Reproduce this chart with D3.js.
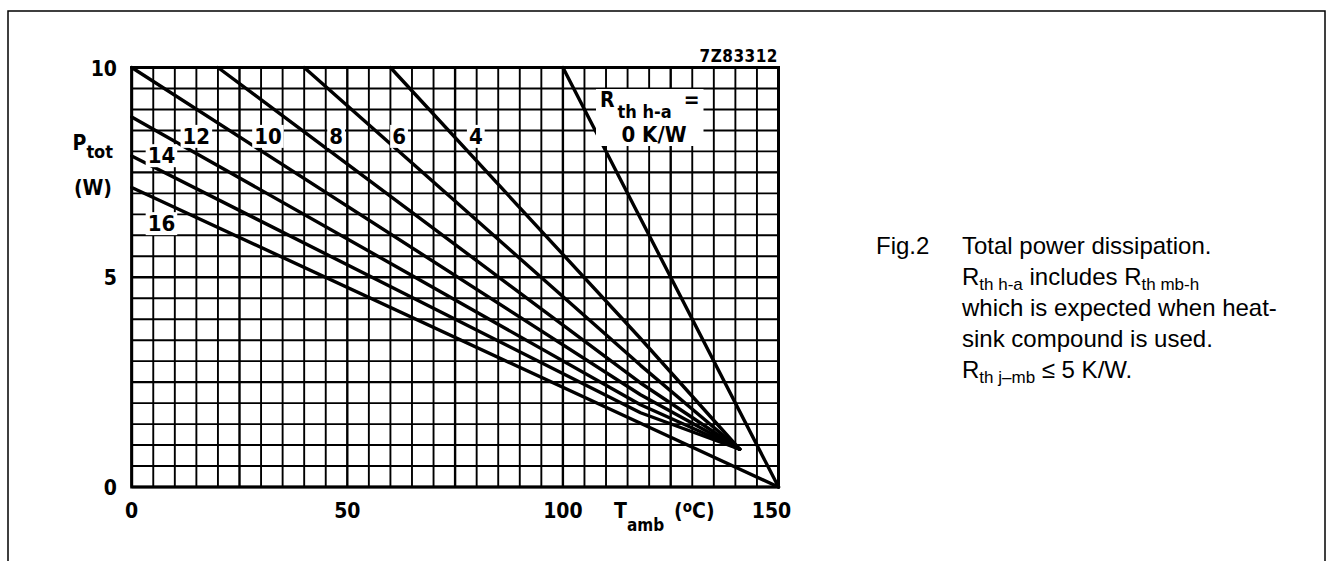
<!DOCTYPE html>
<html><head><meta charset="utf-8">
<script src="https://cdn.jsdelivr.net/npm/d3@7/dist/d3.min.js"></script>
<style>body{margin:0;background:#fff}svg{display:block}</style></head>
<body><svg id="c" width="1329" height="561"></svg>
<script>
// ---- data ----
const rthValues = [0, 4, 6, 8, 10, 12, 14, 16];          // K/W
const startT = [100, 60, 40, 20, 0, 0, 0, 0];             // °C
const startP = [10, 10, 10, 10, 10, 8.82, 7.89, 7.14];    // W
const midT   = [118, 118, 118, 118, 118, 118, 118, 118];
const midP   = [6.4, 3.54, 2.9, 2.48, 2.2, 1.96, 1.77, 1.52];
const endT   = [150, 141, 141, 141, 141, 141, 141, 150];
const endP   = [0, 0.9, 0.9, 0.9, 0.9, 0.9, 0.9, 0];
const tempTicks  = [0, 50, 100, 150];
const powerTicks = [0, 5, 10];
const curveLabels = ["12", "10", "8", "6", "4", "14", "16"];
const captionLines = [
  [["Total power dissipation.", ""]],
  [["R", ""], ["th h-a", "sub"], [" includes R", ""], ["th mb-h", "sub"]],
  [["which is expected when heat-", ""]],
  [["sink compound is used.", ""]],
  [["R", ""], ["th j\u2013mb", "sub"], [" \u2264 5 K/W.", ""]]
];

// ---- layout ----
const svg = d3.select("#c");
const x = d3.scaleLinear().domain([0, 150]).range([131.7, 778.5]);
const y = d3.scaleLinear().domain([0, 10]).range([487, 67.5]);
const narrow = "'Liberation Sans Narrow','DejaVu Sans Condensed','Arial Narrow',sans-serif";
const sans = "'Liberation Sans',Arial,Helvetica,sans-serif";

svg.append("rect").attr("width", 1329).attr("height", 561).attr("fill", "#fff");
svg.append("rect").attr("x", 8).attr("y", 11).attr("width", 1317).attr("height", 600)
  .attr("fill", "none").attr("stroke", "#000").attr("stroke-width", 1.5);

// grid
const g = svg.append("g");
g.selectAll("line.v").data(d3.range(0, 151, 5)).join("line")
  .attr("x1", d => x(d)).attr("x2", d => x(d)).attr("y1", y(0)).attr("y2", y(10))
  .attr("stroke", "#000").attr("stroke-width", d => d % 25 === 0 ? 2.4 : 1.9);
g.selectAll("line.h").data(d3.range(0, 10.01, 0.5)).join("line")
  .attr("y1", d => y(d)).attr("y2", d => y(d)).attr("x1", x(0)).attr("x2", x(150))
  .attr("stroke", "#000").attr("stroke-width", d => (Math.round(d * 2) % 5 === 0) ? 2.4 : 1.9);
g.append("rect").attr("x", x(0)).attr("y", y(10)).attr("width", x(150) - x(0)).attr("height", y(0) - y(10))
  .attr("fill", "none").attr("stroke", "#000").attr("stroke-width", 3);

// curves
const lineGen = d3.line().x(d => x(d[0])).y(d => y(d[1]));
const curves = rthValues.map((r, i) => [[startT[i], startP[i]], [midT[i], midP[i]], [endT[i], endP[i]]]);
svg.append("g").selectAll("path").data(curves).join("path")
  .attr("d", lineGen).attr("fill", "none").attr("stroke", "#000")
  .attr("stroke-width", 3.4).attr("stroke-linecap", "round").attr("stroke-linejoin", "round");

// labels with white backing
function boxed(parent, pad) {
  const gg = parent.append("g");
  return { g: gg, finish: () => {
    const b = gg.node().getBBox();
    gg.insert("rect", ":first-child").attr("x", b.x - pad).attr("y", b.y + 1).attr("width", b.width + 2 * pad)
      .attr("height", b.height - 2).attr("fill", "#fff");
  }};
}
const labelT = [15, 31.6, 47.4, 62, 79.8, 6.9, 6.9];
const labelP = [8.37, 8.37, 8.37, 8.37, 8.37, 7.91, 6.29];
curveLabels.forEach((t, i) => {
  const b = boxed(svg, 2);
  b.g.append("text").attr("x", x(labelT[i])).attr("y", y(labelP[i]) + 8)
    .attr("text-anchor", "middle").attr("font-family", narrow).attr("font-weight", "bold")
    .attr("font-size", 22).text(t);
  b.finish();
});
// R_th h-a = 0 K/W
{
  const b = boxed(svg, 4);
  const t1 = b.g.append("text").attr("x", 600).attr("y", 107).attr("font-family", narrow)
    .attr("font-weight", "bold").attr("font-size", 21);
  t1.append("tspan").text("R");
  t1.append("tspan").attr("dy", 11).attr("dx", 3).attr("font-size", 18).text("th h-a");
  t1.append("tspan").attr("dy", -11).attr("dx", 12).text("=");
  b.g.append("text").attr("x", 654).attr("y", 142).attr("text-anchor", "middle").attr("font-family", narrow)
    .attr("font-weight", "bold").attr("font-size", 22).text("0 K/W");
  b.finish();
}

// tick labels
svg.append("g").selectAll("text").data(powerTicks).join("text")
  .attr("x", 117).attr("y", d => y(d) + 8).attr("text-anchor", "end")
  .attr("font-family", narrow).attr("font-weight", "bold").attr("font-size", 21).text(d => d);
svg.append("g").selectAll("text").data(tempTicks).join("text")
  .attr("x", d => x(d) - (d === 150 ? 7 : 0)).attr("y", 518).attr("text-anchor", "middle")
  .attr("font-family", narrow).attr("font-weight", "bold").attr("font-size", 21).text(d => d);

// axis titles
{
  const t = svg.append("text").attr("x", 113).attr("y", 150).attr("text-anchor", "end").attr("font-family", narrow)
    .attr("font-weight", "bold").attr("font-size", 21);
  t.append("tspan").text("P");
  t.append("tspan").attr("dy", 8).attr("font-size", 18).text("tot");
  svg.append("text").attr("x", 112).attr("y", 195).attr("text-anchor", "end").attr("font-family", narrow)
    .attr("font-weight", "bold").attr("font-size", 21).text("(W)");
  const u = svg.append("text").attr("x", 614).attr("y", 518).attr("font-family", narrow)
    .attr("font-weight", "bold").attr("font-size", 21);
  u.append("tspan").text("T");
  u.append("tspan").attr("dy", 13).attr("font-size", 17).text("amb");
  u.append("tspan").attr("dy", -13).attr("dx", 10).text("(");
  u.append("tspan").attr("dy", -6).attr("font-size", 15).text("o");
  u.append("tspan").attr("dy", 6).text("C)");
}
svg.append("text").attr("x", 778).attr("y", 62).attr("text-anchor", "end").attr("font-family", narrow)
  .attr("font-weight", "bold").attr("font-size", 17).attr("letter-spacing", 0.5).text("7Z83312");

// caption
svg.append("text").attr("x", 876).attr("y", 254).attr("font-family", sans).attr("font-size", 24).text("Fig.2");
captionLines.forEach((parts, i) => {
  const t = svg.append("text").attr("x", 962).attr("y", 254 + i * 31)
    .attr("font-family", sans).attr("font-size", 24);
  let sub = false;
  parts.forEach(([s, k]) => {
    const ts = t.append("tspan").text(s);
    if (k === "sub" && !sub) { ts.attr("dy", 5).attr("font-size", 17); sub = true; }
    else if (k === "sub") { ts.attr("font-size", 17); }
    else if (sub) { ts.attr("dy", -5); sub = false; }
  });
});
</script></body></html>
